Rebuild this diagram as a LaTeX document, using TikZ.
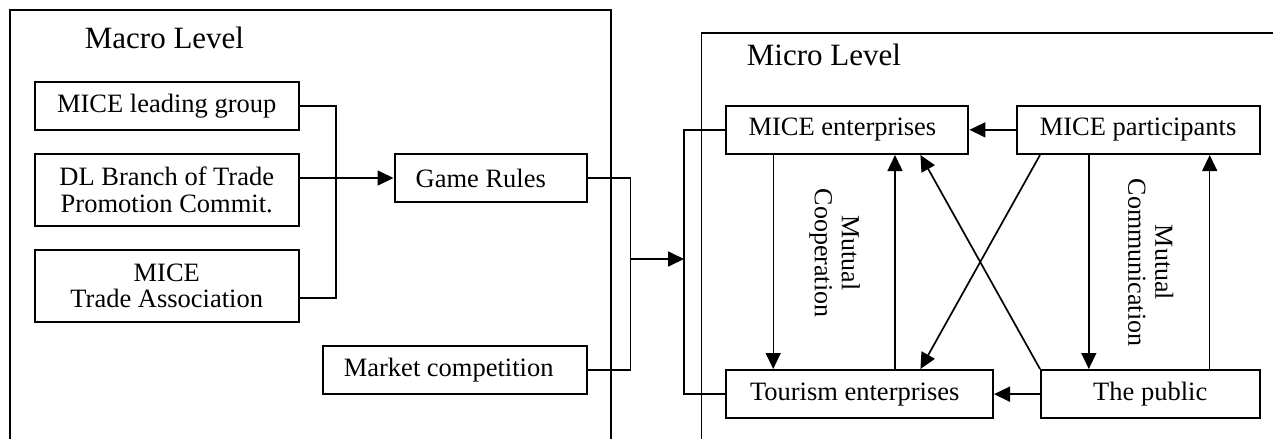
\documentclass[tikz,border=0pt]{standalone}
\usepackage{fontspec}
\setmainfont{Liberation Serif}
\usetikzlibrary{arrows.meta,calc,positioning}

\begin{document}
\begin{tikzpicture}[x=1pt,y=-1pt,line width=1.7pt]
\tikzset{>={Triangle[length=16pt,width=15pt]},
  box/.style={draw, line width=2pt, inner sep=0pt, align=center,
    font=\fontsize{26.5}{26.6}\selectfont},
  title/.style={anchor=base west, inner sep=0pt, font=\fontsize{31}{33}\selectfont},
  tag/.style={rotate=-90, inner sep=0pt, align=center, font=\fontsize{26}{27}\selectfont},
  thin link/.style={line width=1.4pt}}
\useasboundingbox (0,0) rectangle (1273,439);

% the two frames
\draw (10.3,439) -- (10.3,10) -- (610.7,10) -- (610.7,439);
\draw (701.4,439) -- (701.4,33.3) -- (1273,33.3);
\node[title] (macro) at (84,48.3) {Macro Level};
\node[title] (micro) at (746,65) {Micro Level};

% macro level
\node[box, minimum width=263.9pt, minimum height=48pt] (lead) at (166.75,105.7) {MICE leading group};
\node[box, minimum width=263.9pt, minimum height=71.7pt] (dl) at (166.75,189.85) {DL Branch of Trade\\Promotion Commit.};
\node[box, minimum width=263.9pt, minimum height=71.7pt] (assoc) at (166.75,285.85) {MICE\\Trade Association};
\node[box, minimum width=192.5pt, minimum height=48pt] (game) at (490.75,178) {\hspace*{-20pt}Game Rules};
\node[box, minimum width=263.8pt, minimum height=48pt] (market) at (454.7,370) {\hspace*{-12pt}Market competition};

% micro level
\node[box, minimum width=242pt, minimum height=48.3pt] (ment) at (847.4,129.85) {\hspace*{-10pt}MICE enterprises};
\node[box, minimum width=242.9pt, minimum height=48.3pt] (part) at (1138.05,129.85) {MICE participants};
\node[box, minimum width=266.6pt, minimum height=48.3pt] (tour) at (859.7,394.15) {\hspace*{-10pt}Tourism enterprises};
\node[box, minimum width=218.5pt, minimum height=48.3pt] (pub) at (1150.25,394.15) {The public};
\node[tag] (coop) at (834.5,253) {Mutual\\Cooperation};
\node[tag] (comm) at (1150.7,262.5) {Mutual\\Communication};

% connectors
\coordinate (jl) at (336,0);
\coordinate (jr) at (630.4,259);
\coordinate (jm) at (684,259);
\draw (lead.east) -- (lead.east -| jl) |- ([yshift=-12pt]assoc.east);
\draw[->] (dl.east |- game.west) -- (game.west);
\draw (game.east) -- (game.east -| jr) |- (market.east);
\draw[->] (jr) -- (jm);
\draw (ment.west) -- (ment.west -| jm) |- (tour.west);

\draw[->] (part.west) -- (ment.east);
\draw[->] (pub.west) -- (tour.east);
\draw[->, thin link] ([xshift=47.8pt]ment.south west) -- ([xshift=47.8pt]ment.south west |- tour.north);
\draw[->, thin link] ([xshift=169.6pt]tour.north west) -- ([xshift=169.6pt]tour.north west |- ment.south);
\draw[->] (pub.north west) -- ([xshift=195pt]ment.south west);
\draw[->] ([xshift=24.4pt]part.south west) -- ([xshift=195pt]tour.north west);
\draw[->, thin link] ([xshift=73.2pt]part.south west) -- ([xshift=73.2pt]part.south west |- pub.north);
\draw[->, thin link] ([xshift=169.7pt]pub.north west) -- ([xshift=169.7pt]pub.north west |- part.south);
\end{tikzpicture}
\end{document}
